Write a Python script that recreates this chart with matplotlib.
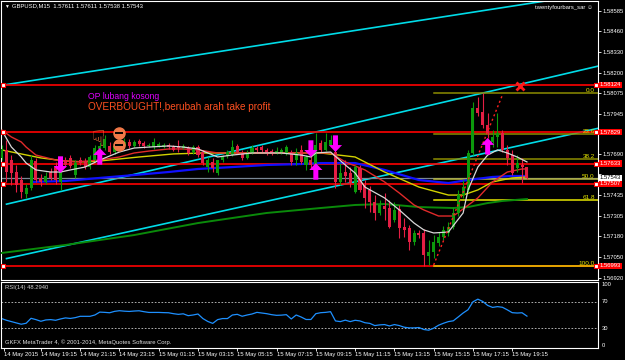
"""MetaTrader style GBPUSD M15 chart with channel, fib levels and RSI panel."""

import matplotlib

matplotlib.use("Agg")
import matplotlib.pyplot as plt
import matplotlib.transforms as mtransforms
import numpy as np

plt.rcParams["font.family"] = ["Liberation Sans", "DejaVu Sans"]

# ── Candles (bar index 0..107, 15 min bars) ──────────────────────────────────
OPEN = [
    1.57668, 1.57718, 1.57655, 1.57580, 1.57530, 1.57443, 1.57480, 1.57649, 1.57543, 1.57518,
    1.57580, 1.57618, 1.57518, 1.57655, 1.57668, 1.57561, 1.57655, 1.57649, 1.57611, 1.57655,
    1.57724, 1.57730, 1.57743, 1.57705, 1.57761, 1.57743, 1.57768, 1.57743, 1.57774, 1.57761,
    1.57743, 1.57736, 1.57743, 1.57736, 1.57749, 1.57736, 1.57743, 1.57730, 1.57730, 1.57705,
    1.57736, 1.57705, 1.57611, 1.57643, 1.57574, 1.57655, 1.57680, 1.57686, 1.57743, 1.57699,
    1.57668, 1.57699, 1.57730, 1.57736, 1.57718, 1.57711, 1.57699, 1.57705, 1.57699, 1.57705,
    1.57655, 1.57718, 1.57624, 1.57655, 1.57624, 1.57761, 1.57718, 1.57749, 1.57705, 1.57518,
    1.57580, 1.57574, 1.57455, 1.57605, 1.57499, 1.57468, 1.57393, 1.57324, 1.57368, 1.57355,
    1.57280, 1.57349, 1.57236, 1.57230, 1.57143, 1.57199, 1.57199, 1.57055, 1.57080, 1.57136,
    1.57174, 1.57199, 1.57236, 1.57324, 1.57436, 1.57468, 1.57699, 1.57980, 1.57955, 1.57874,
    1.57768, 1.57799, 1.57824, 1.57718, 1.57686, 1.57605, 1.57624, 1.57611,
]
HIGH = [
    1.57749, 1.57780, 1.57686, 1.57624, 1.57555, 1.57505, 1.57686, 1.57668, 1.57568, 1.57580,
    1.57605, 1.57643, 1.57655, 1.57674, 1.57686, 1.57655, 1.57674, 1.57668, 1.57686, 1.57749,
    1.57768, 1.57811, 1.57768, 1.57761, 1.57780, 1.57793, 1.57786, 1.57780, 1.57786, 1.57774,
    1.57761, 1.57793, 1.57768, 1.57761, 1.57761, 1.57749, 1.57780, 1.57755, 1.57743, 1.57749,
    1.57749, 1.57718, 1.57674, 1.57668, 1.57655, 1.57686, 1.57718, 1.57780, 1.57755, 1.57718,
    1.57718, 1.57749, 1.57743, 1.57749, 1.57730, 1.57724, 1.57736, 1.57730, 1.57749, 1.57718,
    1.57730, 1.57749, 1.57686, 1.57686, 1.57824, 1.57780, 1.57824, 1.57811, 1.57749, 1.57636,
    1.57655, 1.57611, 1.57624, 1.57624, 1.57530, 1.57493, 1.57436, 1.57405, 1.57449, 1.57405,
    1.57393, 1.57374, 1.57293, 1.57249, 1.57218, 1.57218, 1.57224, 1.57155, 1.57186, 1.57205,
    1.57243, 1.57268, 1.57361, 1.57468, 1.57530, 1.57718, 1.58018, 1.58049, 1.58074, 1.57949,
    1.57843, 1.57949, 1.57843, 1.57749, 1.57718, 1.57686, 1.57668, 1.57611,
]
LOW = [
    1.57655, 1.57518, 1.57499, 1.57455, 1.57418, 1.57418, 1.57468, 1.57518, 1.57493, 1.57505,
    1.57530, 1.57505, 1.57468, 1.57611, 1.57605, 1.57543, 1.57624, 1.57599, 1.57599, 1.57643,
    1.57711, 1.57718, 1.57693, 1.57693, 1.57730, 1.57730, 1.57730, 1.57736, 1.57743, 1.57730,
    1.57736, 1.57724, 1.57736, 1.57730, 1.57724, 1.57711, 1.57705, 1.57724, 1.57686, 1.57693,
    1.57674, 1.57624, 1.57580, 1.57580, 1.57561, 1.57643, 1.57668, 1.57680, 1.57693, 1.57655,
    1.57661, 1.57693, 1.57705, 1.57705, 1.57686, 1.57686, 1.57693, 1.57693, 1.57686, 1.57624,
    1.57624, 1.57630, 1.57593, 1.57605, 1.57593, 1.57705, 1.57711, 1.57736, 1.57480, 1.57499,
    1.57518, 1.57486, 1.57449, 1.57455, 1.57355, 1.57330, 1.57280, 1.57311, 1.57280, 1.57230,
    1.57268, 1.57168, 1.57174, 1.57093, 1.57124, 1.57168, 1.56993, 1.56999, 1.57043, 1.57118,
    1.57155, 1.57180, 1.57224, 1.57305, 1.57418, 1.57455, 1.57686, 1.57930, 1.57855, 1.57793,
    1.57736, 1.57736, 1.57705, 1.57624, 1.57561, 1.57580, 1.57511, 1.57538,
]
CLOSE = [
    1.57724, 1.57580, 1.57574, 1.57499, 1.57455, 1.57480, 1.57655, 1.57530, 1.57518, 1.57555,
    1.57543, 1.57530, 1.57618, 1.57624, 1.57618, 1.57636, 1.57636, 1.57611, 1.57674, 1.57730,
    1.57743, 1.57786, 1.57705, 1.57743, 1.57743, 1.57768, 1.57743, 1.57768, 1.57755, 1.57743,
    1.57749, 1.57768, 1.57755, 1.57749, 1.57736, 1.57718, 1.57730, 1.57743, 1.57699, 1.57736,
    1.57686, 1.57636, 1.57655, 1.57605, 1.57655, 1.57674, 1.57705, 1.57736, 1.57705, 1.57668,
    1.57699, 1.57730, 1.57718, 1.57718, 1.57699, 1.57699, 1.57711, 1.57718, 1.57736, 1.57643,
    1.57699, 1.57643, 1.57674, 1.57624, 1.57749, 1.57718, 1.57768, 1.57780, 1.57518, 1.57574,
    1.57555, 1.57511, 1.57611, 1.57468, 1.57418, 1.57393, 1.57324, 1.57374, 1.57349, 1.57236,
    1.57343, 1.57230, 1.57218, 1.57143, 1.57199, 1.57186, 1.57061, 1.57080, 1.57143, 1.57174,
    1.57218, 1.57236, 1.57324, 1.57436, 1.57486, 1.57699, 1.57980, 1.57949, 1.57874, 1.57824,
    1.57799, 1.57824, 1.57718, 1.57668, 1.57574, 1.57636, 1.57611, 1.57543,
]

# RSI(14) per bar
RSI = [
    44.6, 42.0, 40.0, 38.0, 36.0, 37.5, 45.0, 43.0, 40.5, 42.5,
    43.0, 42.0, 44.0, 45.6, 44.8, 46.0, 48.0, 48.0, 48.0, 50.0,
    54.4, 54.0, 53.4, 55.5, 56.5, 55.8, 55.4, 56.0, 56.4, 55.0,
    53.9, 53.9, 53.9, 53.6, 53.4, 52.0, 51.0, 51.8, 49.0, 50.0,
    51.5, 44.6, 40.2, 37.3, 43.0, 44.6, 44.6, 50.0, 51.0, 48.1,
    50.0, 51.5, 54.0, 53.0, 52.0, 50.5, 49.5, 49.8, 50.5, 44.0,
    50.0, 47.0, 43.2, 43.2, 52.0, 53.5, 54.0, 55.0, 41.0, 40.0,
    42.2, 40.0, 42.0, 41.0, 38.3, 37.3, 34.0, 35.0, 35.5, 33.4,
    35.5, 34.0, 31.5, 30.5, 30.5, 31.0, 28.0, 27.0, 30.0, 34.5,
    37.5, 40.0, 41.2, 47.0, 53.0, 58.0, 70.0, 74.0, 70.5, 64.5,
    61.5, 62.7, 61.7, 57.8, 53.5, 53.0, 53.4, 48.3,
]

# ── Moving averages (sampled at bar index) ───────────────────────────────────
MA_WHITE_IDX = [0, 2, 4, 5, 7, 10, 12, 14, 17, 20, 24, 27, 30, 34, 37, 40, 42, 44, 47, 51,
                57, 61, 63, 64, 67, 70, 72, 74, 78, 81, 84, 86, 88, 91, 94, 95, 97, 99, 101,
                103, 105, 107]
MA_WHITE = [1.57843, 1.57736, 1.57674, 1.57636, 1.57593, 1.57580, 1.57580, 1.57593, 1.57611,
            1.57655, 1.57705, 1.57730, 1.57736, 1.57743, 1.57736, 1.57724, 1.57699, 1.57674,
            1.57686, 1.57699, 1.57699, 1.57686, 1.57674, 1.57699, 1.57705, 1.57624, 1.57574,
            1.57486, 1.57418, 1.57343, 1.57261, 1.57218, 1.57199, 1.57205, 1.57324, 1.57468,
            1.57611, 1.57686, 1.57718, 1.57699, 1.57674, 1.57643]

MA_RED_IDX = [0, 2, 4, 5, 7, 11, 15, 20, 24, 27, 30, 34, 37, 40, 44, 47, 54, 61, 64, 67, 70,
              74, 78, 81, 84, 86, 89, 92, 94, 97, 100, 103, 106, 107]
MA_RED = [1.57843, 1.57799, 1.57768, 1.57736, 1.57686, 1.57655, 1.57643, 1.57655, 1.57674,
          1.57699, 1.57711, 1.57724, 1.57724, 1.57718, 1.57699, 1.57699, 1.57699, 1.57699,
          1.57699, 1.57699, 1.57643, 1.57593, 1.57518, 1.57449, 1.57374, 1.57343, 1.57305,
          1.57305, 1.57349, 1.57418, 1.57518, 1.57580, 1.57599, 1.57599]

MA_YELLOW_IDX = [0, 4, 8, 13, 17, 20, 28, 35, 41, 49, 56, 63, 65, 72, 78, 85, 91, 94, 97,
                 100, 104, 107]
MA_YELLOW = [1.57718, 1.57693, 1.57668, 1.57649, 1.57643, 1.57649, 1.57674, 1.57693, 1.57699,
             1.57699, 1.57699, 1.57699, 1.57699, 1.57674, 1.57580, 1.57486, 1.57436, 1.57436,
             1.57468, 1.57518, 1.57543, 1.57549]

MA_BLUE_IDX = [6, 13, 20, 27, 34, 40, 47, 54, 61, 65, 72, 78, 85, 91, 95, 100, 104, 107]
MA_BLUE = [1.57518, 1.57524, 1.57543, 1.57561, 1.57580, 1.57599, 1.57611, 1.57624, 1.57630,
           1.57636, 1.57636, 1.57593, 1.57530, 1.57511, 1.57530, 1.57549, 1.57555, 1.57555]

MA_GREEN_IDX = [0, 13, 27, 40, 54, 65, 72, 78, 85, 92, 95, 99, 102, 107]
MA_GREEN = [1.57074, 1.57124, 1.57186, 1.57261, 1.57324, 1.57355, 1.57374, 1.57380, 1.57361,
            1.57355, 1.57361, 1.57386, 1.57399, 1.57411]

# ── Objects on the chart ─────────────────────────────────────────────────────
LEVELS = [1.58124, 1.57829, 1.57633, 1.57507, 1.56993]
BID = 1.57543

FIB_START = 88
FIB_HIGH = 1.58074
FIB_LOW = 1.56993
FIB_RATIOS = [0.0, 23.6, 38.2, 50.0, 61.8, 100.0]
FIB_COLORS = ["#8c8c00", "#8c8c00", "#8c8c00", "#b4b43c", "#e6e600", "#e6d200"]

# channel lines: (start bar, price), (bar, price)
CHANNEL = [
    ((0, 1.58122), (100, 1.58598)),
    ((1, 1.57379), (100, 1.58088)),
    ((1, 1.57039), (100, 1.57708)),
]
DOTTED_TREND = ((88, 1.56999), (102, 1.58061))

ARROW_BARS = [12, 20, 63, 64, 68, 99]
ARROW_DIRS = ["down", "up", "down", "up", "down", "up"]
ARROW_TIPS = [1.57574, 1.57730, 1.57674, 1.57636, 1.57705, 1.57793]

PRICE_TICKS = [1.58585, 1.58460, 1.58330, 1.58200, 1.58075, 1.57945, 1.57820,
               1.57690, 1.57565, 1.57435, 1.57305, 1.57180, 1.57050, 1.56920]
# these two scale labels sit under the level boxes in the terminal
HIDDEN_TICKS = [1.57820, 1.57565]
TIME_IDX = [0.5, 8, 16, 24, 32, 40, 48, 56, 64, 72, 80, 88, 96, 104]
TIME_LABELS = ["14 May 2015", "14 May 19:15", "14 May 21:15", "14 May 23:15",
               "15 May 01:15", "15 May 03:15", "15 May 05:15", "15 May 07:15",
               "15 May 09:15", "15 May 11:15", "15 May 13:15", "15 May 15:15",
               "15 May 17:15", "15 May 19:15"]

BULL = "#0c9a0c"
BEAR = "#e41e44"
MAGENTA = "#ff00ff"
XMIN, XMAX = -0.12, 121.47
FS = 4.2


def _right_label(ax, price, text, fc, tc):
    tr = mtransforms.blended_transform_factory(ax.transAxes, ax.transData)
    ax.text(1.003, price, text, transform=tr, fontsize=FS, color=tc, va="center",
            ha="left", clip_on=False, zorder=10,
            bbox=dict(boxstyle="square,pad=0.12", fc=fc, ec="none"))


def _line_through(p0, p1, x_from, x_to):
    (x0, y0), (x1, y1) = p0, p1
    k = (y1 - y0) / (x1 - x0)
    return [x_from, x_to], [y0 + k * (x_from - x0), y0 + k * (x_to - x0)]


def draw_main(ax):
    idx = np.arange(len(CLOSE))
    o, h, l, c = (np.array(v) for v in (OPEN, HIGH, LOW, CLOSE))
    colors = np.where(c >= o, BULL, BEAR)

    # channel
    for p0, p1 in CHANNEL:
        xs, ys = _line_through(p0, p1, p0[0], XMAX)
        ax.plot(xs, ys, color="#00dce8", lw=1.2, zorder=2)

    # horizontal levels
    for lvl in LEVELS:
        ax.plot([0.3, XMAX], [lvl, lvl], color="#ff0000", lw=1.2, zorder=2)
        ax.plot([0.3, 121.0], [lvl, lvl], "s", ms=2.6, mfc="#ffffff", mec="#ff0000",
                mew=0.8, zorder=6)
    ax.axhline(BID, color="#7a8794", lw=0.9, zorder=2)

    # fibonacci
    for r, col in zip(FIB_RATIOS, FIB_COLORS):
        p = FIB_HIGH - r / 100 * (FIB_HIGH - FIB_LOW)
        ax.plot([FIB_START, XMAX], [p, p], color=col, lw=1.1, zorder=2)
        ax.text(120.8, p, f"{r:.1f}", color="#e6e600", fontsize=FS + 0.4, ha="right",
                va="bottom", zorder=7)

    # moving averages
    ax.plot(MA_GREEN_IDX, MA_GREEN, color="#0a8a0a", lw=1.4, zorder=3)
    ax.plot(MA_BLUE_IDX, MA_BLUE, color="#1010ff", lw=1.6, zorder=3)
    ax.plot(MA_YELLOW_IDX, MA_YELLOW, color="#d2d200", lw=1.0, zorder=3)
    ax.plot(MA_RED_IDX, MA_RED, color="#e02a2a", lw=1.0, zorder=3)

    # candles
    ax.vlines(idx, l, h, colors=colors, lw=0.8, zorder=4)
    body = np.maximum(np.abs(c - o), 0.00002)
    ax.bar(idx, body, bottom=np.minimum(o, c), width=0.62, color=colors, lw=0, zorder=4)

    ax.plot(MA_WHITE_IDX, MA_WHITE, color="#d8d8d8", lw=0.9, zorder=5)

    xs, ys = _line_through(*DOTTED_TREND, DOTTED_TREND[0][0], DOTTED_TREND[1][0])
    ax.plot(xs, ys, color="#ff2020", lw=1.0, ls=(0, (1.5, 2)), zorder=5)

    # signal arrows
    for b, d, tip in zip(ARROW_BARS, ARROW_DIRS, ARROW_TIPS):
        off = 12 if d == "down" else -12
        ax.annotate("", xy=(b, tip), xytext=(0, off), textcoords="offset points",
                    arrowprops=dict(arrowstyle="simple,head_length=0.5,head_width=0.95,"
                                               "tail_width=0.36",
                                    fc=MAGENTA, ec="none", shrinkA=0, shrinkB=0),
                    zorder=8)

    # icons and notes
    ax.text(19.6, 1.57774, "\u261f", color="#f07040", fontsize=16, ha="center",
            va="center", zorder=8)
    for p in (1.57824, 1.57749):
        ax.plot(24, p, "o", ms=8, mfc="#f07848", mec="#f07848", zorder=8)
        ax.plot(24, p, "_", ms=6, mew=1.4, color="#000000", zorder=9)
    ax.plot(105.6, 1.58118, marker="x", ms=6, mew=2, color="#ff1a1a", zorder=9)
    ax.text(17.6, 1.58055, "OP lubang kosong", color="#e000ff", fontsize=6.2,
            va="center", zorder=8)
    ax.text(17.6, 1.57986, "OVERBOUGHT!,berubah arah take profit", color="#ff5020",
            fontsize=7.2, va="center", zorder=8)

    ax.set_xlim(XMIN, XMAX)
    ax.set_ylim(1.56905, 1.58649)
    ax.set_xticks([])
    ax.yaxis.tick_right()
    ax.set_yticks(PRICE_TICKS)
    ax.set_yticklabels(["" if t in HIDDEN_TICKS else f"{t:.5f}" for t in PRICE_TICKS])
    ax.tick_params(axis="y", colors="white", labelsize=FS, length=2, pad=1.2, width=0.6)

    for lvl in LEVELS:
        _right_label(ax, lvl, f"{lvl:.5f}", "#ff0000", "white")
    _right_label(ax, BID, f"{BID:.5f}", "#ffffff", "black")


def draw_rsi(ax):
    idx = np.arange(len(RSI))
    for lv in (70, 30):
        ax.axhline(lv, color="#c8c8c8", lw=0.6, ls=(0, (2, 2)))
    ax.plot(idx, RSI, color="#1e90ff", lw=0.9)
    ax.set_xlim(XMIN, XMAX)
    ax.set_ylim(0, 100)
    ax.set_yticks([])
    tr = mtransforms.blended_transform_factory(ax.transAxes, ax.transData)
    for v, va in ((100, "top"), (70, "center"), (30, "center"), (0, "bottom")):
        ax.text(1.006, v, str(v), transform=tr, color="white", fontsize=FS, va=va,
                clip_on=False)
    ax.set_xticks(TIME_IDX)
    ax.set_xticklabels(TIME_LABELS, ha="left")
    ax.tick_params(axis="x", colors="white", labelsize=FS, length=2, pad=1, width=0.6)
    ax.text(0.006, 0.96, "RSI(14) 48.2940", transform=ax.transAxes, color="#d0d0d0",
            fontsize=FS, va="top")
    ax.text(0.006, 0.04, "GKFX MetaTrader 4, \u00a9 2001-2014, MetaQuotes Software Corp.",
            transform=ax.transAxes, color="#e0e0e0", fontsize=FS, va="bottom")


def main():
    fig = plt.figure(figsize=(6.25, 3.6), dpi=100, facecolor="black")
    ax = fig.add_axes([1 / 625, 80 / 360, 597 / 625, 279 / 360], facecolor="black")
    ax_rsi = fig.add_axes([1 / 625, 12 / 360, 597 / 625, 66 / 360], facecolor="black")
    for a in (ax, ax_rsi):
        for s in a.spines.values():
            s.set_color("white")
            s.set_linewidth(0.8)

    draw_main(ax)
    draw_rsi(ax_rsi)

    fig.text(4 / 625, 1 - 6 / 360, "\u25bc", color="white", fontsize=3.5, va="center")
    fig.text(12 / 625, 1 - 6 / 360, "GBPUSD,M15  1.57611 1.57611 1.57538 1.57543",
             color="white", fontsize=FS, va="center")
    fig.text(593 / 625, 1 - 7 / 360, "twentyfourbars_sar \u263a", color="white",
             fontsize=FS, va="center", ha="right")

    fig.savefig("out.png", dpi=100, facecolor="black")
    plt.close(fig)


if __name__ == "__main__":
    main()
